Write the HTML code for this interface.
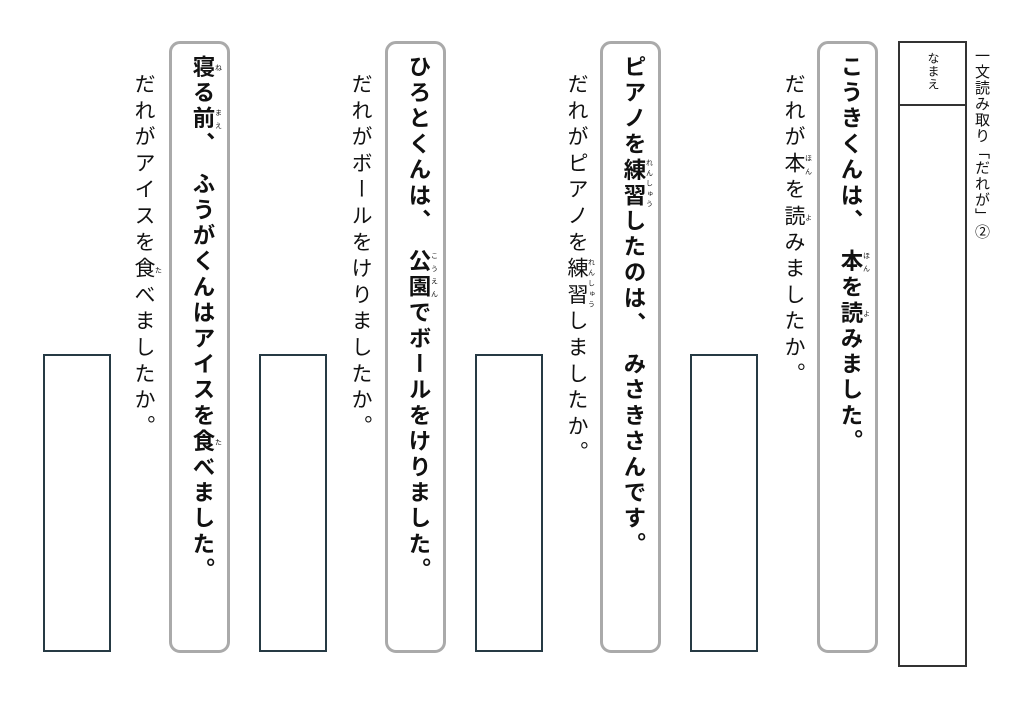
<!DOCTYPE html>
<html><head><meta charset="utf-8"><style>
body{margin:0;width:1024px;height:709px;background:#fff;position:relative;overflow:hidden;font-family:"Liberation Sans","Noto Sans CJK JP",sans-serif;color:#111}
.v{position:absolute;writing-mode:vertical-rl;white-space:nowrap}
.box{position:absolute;border:3px solid #aaa;border-radius:11px;box-sizing:border-box;width:61px;top:41px;height:612px}
.b{font-weight:bold;font-size:22.5px;letter-spacing:3.2px;top:55px}
.q{font-size:21px;letter-spacing:5.3px;top:73px}
.ans{position:absolute;border:2px solid #263a44;box-sizing:border-box;width:68px;top:354px;height:298px}
rt{font-size:7px;font-weight:normal;letter-spacing:1px}
</style></head><body>
<div style="position:absolute;left:898px;top:41px;width:69px;height:626px;border:2px solid #333;box-sizing:border-box"></div>
<div style="position:absolute;left:898px;top:104px;width:69px;border-top:2px solid #333"></div>
<div class="v" style="left:925px;top:52px;font-size:12px;letter-spacing:1px">なまえ</div>
<div class="v" style="left:971px;top:48px;font-size:15px;letter-spacing:1px">一文読み取り「だれが」②</div>

<div class="box" style="left:817px"></div>
<div class="v b" style="left:834px">こうきくんは、　<ruby>本<rt>ほん</rt></ruby>を<ruby>読<rt>よ</rt></ruby>みました。</div>
<div class="v q" style="left:778px">だれが<ruby>本<rt>ほん</rt></ruby>を<ruby>読<rt>よ</rt></ruby>みましたか。</div>
<div class="ans" style="left:690px"></div>

<div class="box" style="left:600px"></div>
<div class="v b" style="left:617px">ピアノを<ruby>練習<rt>れんしゅう</rt></ruby>したのは、　みさきさんです。</div>
<div class="v q" style="left:561px">だれがピアノを<ruby>練習<rt>れんしゅう</rt></ruby>しましたか。</div>
<div class="ans" style="left:475px"></div>

<div class="box" style="left:385px"></div>
<div class="v b" style="left:402px">ひろとくんは、　<ruby>公園<rt>こうえん</rt></ruby>でボールをけりました。</div>
<div class="v q" style="left:345px">だれがボールをけりましたか。</div>
<div class="ans" style="left:259px"></div>

<div class="box" style="left:169px"></div>
<div class="v b" style="left:186px"><ruby>寝<rt>ね</rt></ruby>る<ruby>前<rt>まえ</rt></ruby>、　ふうがくんはアイスを<ruby>食<rt>た</rt></ruby>べました。</div>
<div class="v q" style="left:128px">だれがアイスを<ruby>食<rt>た</rt></ruby>べましたか。</div>
<div class="ans" style="left:43px"></div>
</body></html>
